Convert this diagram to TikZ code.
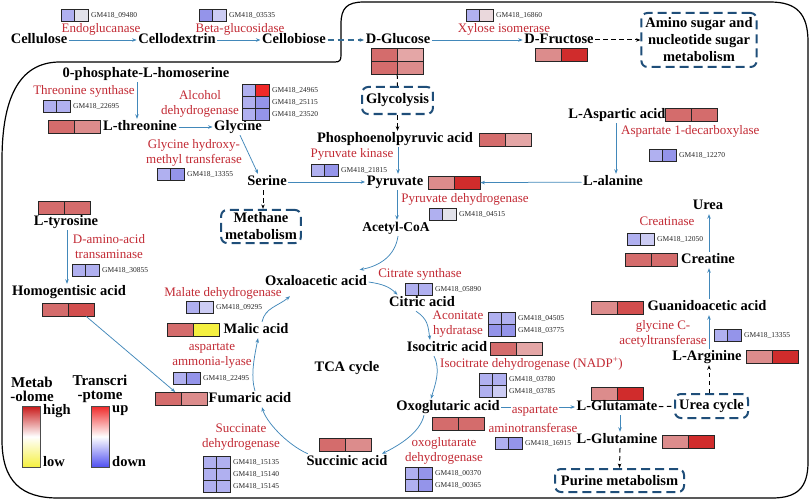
\documentclass[tikz,border=0pt]{standalone}
\usepackage{fontspec}
\setmainfont{Liberation Serif}
\usetikzlibrary{arrows.meta, positioning}

\definecolor{enzred}{RGB}{194,42,52}
\definecolor{flowblue}{RGB}{66,136,186}
\definecolor{boxblue}{RGB}{31,78,121}
\definecolor{lb}{RGB}{176,176,240}
\definecolor{mb}{RGB}{148,148,234}
\definecolor{pb}{RGB}{204,204,244}
\definecolor{gr}{RGB}{226,226,234}
\definecolor{pk}{RGB}{234,216,220}
\definecolor{r1}{RGB}{212,108,108}
\definecolor{r2}{RGB}{220,140,140}
\definecolor{r3}{RGB}{228,166,166}
\definecolor{r4}{RGB}{208,44,44}
\definecolor{r5}{RGB}{240,40,40}
\definecolor{r6}{RGB}{210,78,78}
\definecolor{yl}{RGB}{245,240,64}
\definecolor{legred}{RGB}{200,24,24}
\definecolor{legblue}{RGB}{80,80,240}

\tikzset{
  met/.style={font=\fontsize{14.5}{16}\selectfont\bfseries, inner sep=1.5pt, text height=10pt, text depth=3pt},
  enz/.style={text=enzred, font=\fontsize{13}{15}\selectfont, align=center, inner sep=1pt},
  gid/.style={font=\fontsize{7.5}{9}\selectfont, text=black!85, inner sep=0pt, anchor=west},
  cell/.style={draw=black!85, line width=0.6pt},
  hmbox/.style={inner sep=0pt, anchor=north west},
  pathbox/.style={draw=boxblue, line width=2pt, dash pattern=on 9pt off 5pt, rounded corners=6pt, font=\fontsize{14.5}{17}\selectfont\bfseries, align=center, inner xsep=4pt, inner ysep=3pt},
  flow/.style={draw=flowblue, line width=0.75pt, -{Stealth[length=4.5pt, width=3.5pt]}},
  link/.style={draw=black, line width=1pt, dash pattern=on 4.5pt off 3.5pt, -{Stealth[length=4.5pt, width=3.5pt]}},
  legt/.style={font=\fontsize{15}{14}\selectfont\bfseries, align=center, inner sep=0pt},
  legv/.style={font=\fontsize{14.5}{16}\selectfont\bfseries, inner sep=0pt, anchor=west},
  legbar/.style={draw=black!70, line width=0.6pt, minimum width=18pt, minimum height=61pt, inner sep=0pt}
}

\newcommand{\metmap}[5]{%
  \node[hmbox, minimum width=52pt, minimum height=13pt] (#1) at (#2,#3) {};
  \filldraw[cell, fill=#4] (#2,#3) rectangle ++(26,13);
  \filldraw[cell, fill=#5] (#2+26,#3) rectangle ++(26,13);
}
\newcommand{\genemap}[4]{%
  \foreach \colA/\colB/\gname [count=\i] in {#4} {
    \filldraw[cell, fill=\colA] (#2,#3+12*\i-12) rectangle ++(13.5,12);
    \filldraw[cell, fill=\colB] (#2+13.5,#3+12*\i-12) rectangle ++(13.5,12);
    \node[gid] (#1-\i) at (#2+30,#3+12*\i-6) {\gname};
  }
}

\begin{document}
\begin{tikzpicture}[x=1pt, y=-1pt]
  \useasboundingbox (0,0) rectangle (810,500);
  \draw[line width=1.2pt] (60,62) -- (335,62) .. controls (340,62) and (341,60) .. (341,55) -- (341,24)
    .. controls (341,8) and (347,2) .. (364,2) -- (770,2) .. controls (797,2) and (808,14) .. (808,42)
    -- (808,462) .. controls (808,488) and (797,498) .. (772,498) -- (58,498)
    .. controls (22,498) and (2,482) .. (2,440) -- (2,160) .. controls (2,100) and (18,62) .. (60,62) -- cycle;

  \node[met] (cel) at (39,40) {Cellulose};
  \node[met] (cdx) at (177,40) {Cellodextrin};
  \node[met] (cbi) at (294,40) {Cellobiose};
  \node[met] (glc) at (398,40) {D-Glucose};
  \node[met] (fru) at (559,40) {D-Fructose};
  \node[pathbox, minimum width=112pt, minimum height=54pt] (amino) at (699,40) {Amino sugar and\\nucleotide sugar\\metabolism};
  \node[enz] (endo) at (101,29) {Endoglucanase};
  \genemap{endomap}{61}{9}{lb/gr/GM418\_09480}
  \node[enz] (bglu) at (240,29) {Beta-glucosidase};
  \genemap{bglumap}{199}{9}{mb/pb/GM418\_03535}
  \node[enz] (xyl) at (504,29) {Xylose isomerase};
  \genemap{xylmap}{466}{9}{lb/pk/GM418\_16860}
  \metmap{glchm}{371}{48}{r1}{r3}
  \metmap{glchmb}{371}{61}{r1}{r2}
  \metmap{fruhm}{535}{48}{r2}{r4}
  \draw[flow] (cel) -- (cdx);
  \draw[flow] (cdx) -- (cbi);
  \draw[flow, draw=flowblue!80!black, line width=1.8pt, dash pattern=on 6pt off 4pt] (cbi) -- (glc);
  \draw[flow] (glc) -- (fru);
  \draw[link] (fru) -- (amino);

  \node[met] (hser) at (146,74) {0-phosphate-L-homoserine};
  \node[enz] (thrs) at (84,91) {Threonine synthase};
  \genemap{thrsmap}{43}{100}{lb/lb/GM418\_22695}
  \metmap{thrhm}{48}{120}{r1}{r2}
  \node[met] (thr) at (140,127) {L-threonine};
  \node[met] (gly) at (238,127) {Glycine};
  \node[enz] (adh) at (200,103.5) {Alcohol\\dehydrogenase};
  \genemap{adhmap}{242}{84}{lb/r5/GM418\_24965, lb/mb/GM418\_25115, lb/mb/GM418\_23520}
  \node[enz] (ghm) at (194,152.5) {Glycine hydroxy-\\methyl transferase};
  \genemap{ghmmap}{157}{168}{lb/mb/GM418\_13355}
  \node[met] (ser) at (267,182) {Serine};
  \node[pathbox, minimum width=79pt, minimum height=33pt] (methane) at (261,226.5) {Methane\\metabolism};
  \draw[flow] ([xshift=-9pt]hser.south) -- ([xshift=-3pt]thr.north);
  \draw[flow] (thr) -- (gly);
  \draw[flow] ([xshift=2pt]gly.south) -- ([xshift=-9pt]ser.north);
  \draw[link] ([xshift=-4pt]ser.south) -- ([xshift=2pt]methane.north);

  \node[pathbox, minimum width=69pt, minimum height=27pt] (glyco) at (397.5,100.5) {Glycolysis};
  \node[met] (pep) at (395,139) {Phosphoenolpyruvic acid};
  \metmap{pephm}{479}{133}{r1}{r3}
  \node[enz] (pk) at (352,154) {Pyruvate kinase};
  \genemap{pkmap}{311}{164}{lb/mb/GM418\_21815}
  \node[met] (pyr) at (395,182) {Pyruvate};
  \metmap{pyrhm}{428}{176}{r2}{r4}
  \node[enz] (pdh) at (465,199) {Pyruvate dehydrogenase};
  \genemap{pdhmap}{429}{208}{lb/gr/GM418\_04515}
  \node[met, font=\fontsize{13.5}{15}\selectfont\bfseries] (acoa) at (396,228) {Acetyl-CoA};
  \draw[link, -] (glchmb.south) -- (glyco.north);
  \draw[link] (glyco.south) -- ([xshift=2.5pt]pep.north);
  \draw[flow] ([xshift=3pt]pep.south) -- ([xshift=3pt]pyr.north);
  \draw[flow] (ser) -- (pyr);
  \draw[flow] ([xshift=2pt]pyr.south) -- ([xshift=1pt]acoa.north);

  \node[met] (asp) at (617,115) {L-Aspartic acid};
  \metmap{asphm}{665}{108}{r1}{r1}
  \node[enz, anchor=west] (adc) at (620,131) {Aspartate 1-decarboxylase};
  \genemap{adcmap}{649}{149}{lb/mb/GM418\_12270}
  \node[met] (ala) at (613,182) {L-alanine};
  \draw[flow] ([xshift=-1pt]asp.south) -- ([xshift=3pt]ala.north);
  \draw[flow] (ala) -- (pyrhm);

  \node[met] (urea) at (708,206) {Urea};
  \node[enz] (crn) at (667,221) {Creatinase};
  \genemap{crnmap}{627}{233}{lb/pb/GM418\_12050}
  \metmap{crthm}{625}{253}{r1}{r1}
  \node[met] (crt) at (708,260) {Creatine};
  \metmap{gaahm}{591}{301}{r2}{r6}
  \node[met] (gaa) at (707,307) {Guanidoacetic acid};
  \node[enz] (gca) at (663,333.5) {glycine C-\\acetyltransferase};
  \genemap{gcamap}{714}{329}{lb/mb/GM418\_13355}
  \node[met] (arg) at (707,357) {L-Arginine};
  \metmap{arghm}{746}{350}{r2}{r4}
  \node[pathbox, minimum width=73pt, minimum height=24pt] (ureacyc) at (711.5,406) {Urea cycle};
  \draw[flow] ([xshift=1pt]crt.north) -- ([xshift=1pt]urea.south);
  \draw[flow] ([xshift=2pt]gaa.north) -- ([xshift=1pt]crt.south);
  \draw[flow] ([xshift=2pt]arg.north) -- ([xshift=2pt]gaa.south);
  \draw[link] ([xshift=-2.5pt]ureacyc.north) -- ([xshift=2pt]arg.south);

  \metmap{gluhm}{591}{387}{r2}{r4}
  \node[met] (glu) at (617,407) {L-Glutamate};
  \node[met] (gln) at (617,440) {L-Glutamine};
  \metmap{glnhm}{662}{435}{r2}{r4}
  \node[pathbox, minimum width=129pt, minimum height=23pt] (purine) at (619.5,480.5) {Purine metabolism};
  \draw[link, -] (glu) -- (ureacyc);
  \draw[flow] ([xshift=3pt]glu.south) -- ([xshift=3pt]gln.north);
  \draw[link] ([xshift=3pt]gln.south) -- (purine.north);

  \node[met] (oaa) at (316,282) {Oxaloacetic acid};
  \node[enz] (cs) at (420,274) {Citrate synthase};
  \genemap{csmap}{405}{283}{lb/lb/GM418\_05890}
  \node[met] (cit) at (422,303) {Citric acid};
  \node[enz] (aco) at (458,324) {Aconitate\\hydratase};
  \genemap{acomap}{488}{312}{lb/lb/GM418\_04505, mb/mb/GM418\_03775}
  \node[met] (icit) at (447,348) {Isocitric acid};
  \metmap{icithm}{490}{342}{r1}{r3}
  \node[enz, anchor=west] (idh) at (439,364) {Isocitrate dehydrogenase (NADP\textsuperscript{+})};
  \genemap{idhmap}{479}{373}{lb/lb/GM418\_03780, lb/pb/GM418\_03785}
  \node[met] (oxo) at (448,407) {Oxoglutaric acid};
  \metmap{oxohm}{432}{417}{r1}{r1}
  \draw[flow] (oxo) -- (glu);
  \node[enz, fill=white] (ast) at (535,411) {aspartate};
  \node[enz] (astb) at (533,428) {aminotransferase};
  \genemap{astmap}{495}{437}{lb/mb/GM418\_16915}
  \node[enz] (ogdh) at (444,450.5) {oxoglutarate\\dehydrogenase};
  \genemap{ogdhmap}{405}{467}{lb/mb/GM418\_00370, lb/mb/GM418\_00365}
  \node[met] (suc) at (347,462) {Succinic acid};
  \metmap{suchm}{319}{438}{r1}{r2}
  \node[enz] (sdh) at (241,437) {Succinate\\dehydrogenase};
  \genemap{sdhmap}{203}{456}{lb/lb/GM418\_15135, lb/lb/GM418\_15140, lb/lb/GM418\_15145}
  \node[met] (fum) at (250,399) {Fumaric acid};
  \metmap{fumhm}{155}{392}{r1}{r2}
  \node[enz] (aal) at (212,355.5) {aspartate\\ammonia-lyase};
  \genemap{aalmap}{173}{372}{lb/mb/GM418\_22495}
  \node[met] (mal) at (256,330) {Malic acid};
  \metmap{malhm}{167}{323}{r1}{yl}
  \node[enz] (mdh) at (223,293) {Malate dehydrogenase};
  \genemap{mdhmap}{186}{301}{lb/pb/GM418\_09295}
  \node[met] (tca) at (347,368) {TCA cycle};
  \draw[flow] ([xshift=2pt]acoa.south) .. controls +(-3,20) and +(20,-4) .. ([xshift=-9pt,yshift=4pt]oaa.north east);
  \draw[flow] (oaa.east) .. controls +(14,2) and +(-8,-8) .. ([xshift=10pt]cit.north west);
  \draw[flow] ([xshift=-6pt]cit.south) .. controls +(12,8) and +(-2,-14) .. ([xshift=-17pt]icit.north);
  \draw[flow] ([xshift=-13pt]icit.south) .. controls +(7,14) and +(4,-14) .. ([xshift=-17pt]oxo.north);
  \draw[flow] ([xshift=-24pt]oxo.south) .. controls +(-4,18) and +(16,-8) .. ([xshift=35pt]suc.north);
  \draw[flow] ([xshift=3pt]suc.north west) .. controls +(-22,-10) and +(4,14) .. ([xshift=12pt]fum.south);
  \draw[flow] ([xshift=5pt]fum.north) .. controls +(-5,-16) and +(-3,16) .. ([xshift=2pt]mal.south);
  \draw[flow] ([xshift=6pt]mal.north) .. controls +(3,-14) and +(-12,10) .. ([xshift=-26pt,yshift=-6pt]oaa.south);

  \metmap{tyrhm}{38}{201}{r1}{r1}
  \node[met] (tyr) at (66,222) {L-tyrosine};
  \node[enz] (dat) at (109,246.5) {D-amino-acid\\transaminase};
  \genemap{datmap}{72}{264}{lb/lb/GM418\_30855}
  \node[met] (hga) at (69,292) {Homogentisic acid};
  \metmap{hgahm}{42}{303}{r1}{r6}
  \draw[flow] ([xshift=1pt]tyr.south) -- ([xshift=-2pt]hga.north);
  \draw[flow] ([xshift=18pt]hgahm.south) -- ([xshift=-6pt]fumhm.north);

  \node[legt] (metl) at (32,389) {Metab\\-olome};
  \node[legt] (trl) at (100,389) {Transcri\\-ptome};
  \node[legbar, top color=legred, bottom color=yl, middle color=white] (metbar) at (31,436.5) {};
  \node[legbar, top color=r5, bottom color=legblue, middle color=white] (trbar) at (100,436.5) {};
  \node[legv] (high) at (43,411) {high};
  \node[legv] (low) at (43,462) {low};
  \node[legv] (up) at (112,411) {up};
  \node[legv] (down) at (112,462) {down};
\end{tikzpicture}
\end{document}
